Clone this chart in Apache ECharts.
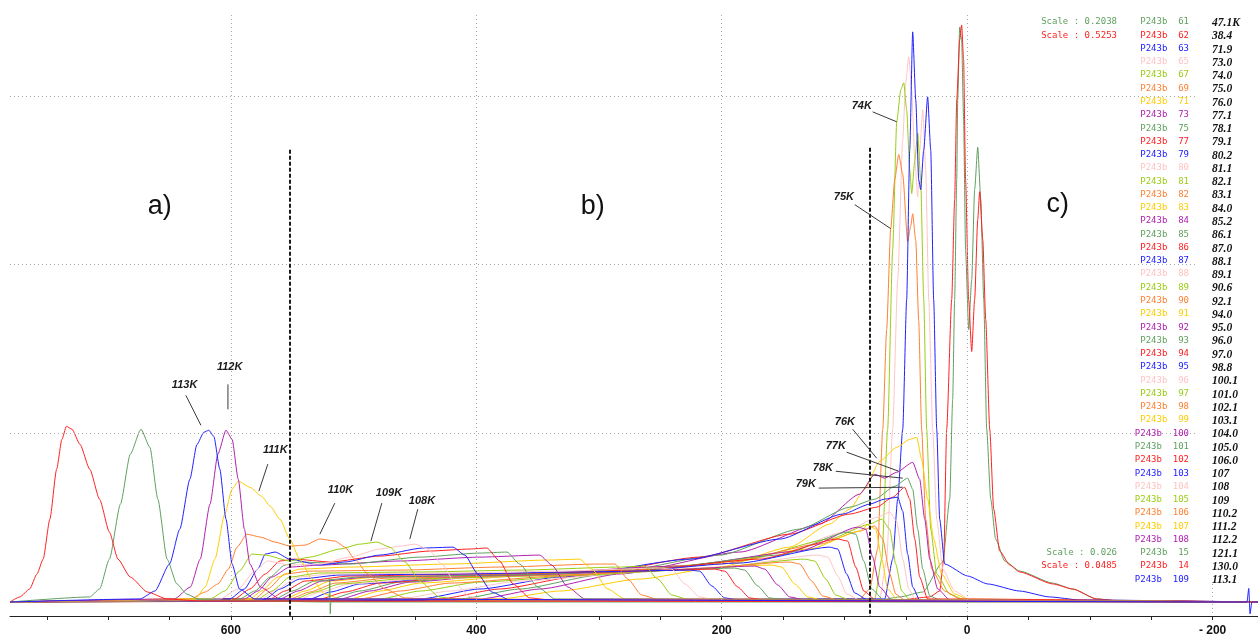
<!DOCTYPE html>
<html>
<head>
<meta charset="utf-8">
<script src="https://cdn.jsdelivr.net/npm/echarts@6/dist/echarts.min.js"></script>
<style>
  html, body { margin: 0; padding: 0; background: #ffffff; }
  #chart { width: 1258px; height: 637px; }
</style>
</head>
<body>
<div id="chart"></div>
<script>
// Axis extents (wavenumber shift on x, relative intensity on y)
const X_MIN = -237, X_MAX = 780;
const Y_MIN = -8.3, Y_MAX = 347.9;
const xTickValues = [750, 700, 650, 600, 550, 500, 450, 400, 350, 300, 250, 200, 150, 100, 50, 0, -50, -100, -150, -200];
const xLabelValues = [600, 400, 200, 0, -200];

// Run ids and temperatures, in legend order
const runIds = ['61','62','63','65','67','69','71','73','75','77','79','80','81','82','83','84','85','86','87','88','89','90','91','92','93','94','95','96','97','98','99','100','101','102','103','104','105','106','107','108','15','14','109'];
const runTemps = ['47.1K','38.4','71.9','73.0','74.0','75.0','76.0','77.1','78.1','79.1','80.2','81.1','82.1','83.1','84.0','85.2','86.1','87.0','88.1','89.1','90.6','92.1','94.0','95.0','96.0','97.0','98.8','100.1','101.0','102.1','103.1','104.0','105.0','106.0','107','108','109','110.2','111.2','112.2','121.1','130.0','113.1'];
const palette = ['#5f9f5f', '#ff2020', '#2020ff', '#ffc4c4', '#99cc11', '#ff7f30', '#ffcc00', '#b020b0'];
const scaleNotes = [['Scale : 0.2038', 0, 0], ['Scale : 0.5253', 1, 1], ['Scale : 0.026', 40, 0], ['Scale : 0.0485', 41, 1]];

// Spectra: [shift, intensity]
const t61 = [[71.3,1.2],[55,3],[36.2,5.9],[19.9,23.7],[14.2,61],[11.8,120.1],[10.2,179.3],[8.5,250.4],[7.7,297.6],[6.1,340.8],[4.5,333.1],[2.9,285.8],[1.3,208.9],[-1.2,161.5],[-3.7,191.1],[-6.1,244.4],[-8.6,269.6],[-11.1,238.5],[-13.5,179.3],[-15.9,102.4],[-19.2,61],[-23.2,37.3],[-30.6,24.3],[-42.8,18.3],[-69.7,11.2],[-86,7.7],[-105.5,1.8],[-124.3,0.6]];
const t62 = [[55,1.2],[30.5,3],[22.4,6.5],[19.1,25.4],[16.7,102.4],[12.6,179.3],[10.2,238.5],[8.5,297.6],[6.1,333.1],[4.5,342],[2.9,321.3],[1.3,250.4],[-1.2,179.3],[-3.7,148.5],[-6.1,179.3],[-8.6,226.6],[-10.2,243.2],[-12.7,214.8],[-15.1,167.5],[-18.4,102.4],[-21.6,55],[-26.5,30.2],[-34.7,21.9],[-42.8,17.8],[-69.7,10.7],[-86,7.7],[-105.5,1.8],[-124.3,0.6]];
const t63 = [[67.2,1.8],[60.7,25.4],[56.6,61],[52.5,102.4],[49.3,179.3],[46.8,268],[44.4,337.9],[41.9,297.6],[39.5,250.4],[37.9,244.4],[35.4,268],[32.2,299.4],[29.7,268],[27.3,179.3],[24.8,102.4],[22.4,49.1],[18.3,22.5],[-0.4,15.4],[-16.7,10.7],[-42.8,6.5],[-67.2,3],[-91.7,1.2]];
const t65 = [[71.3,1.8],[65.6,25.4],[60.7,102.4],[56.6,191.1],[52.5,273.9],[50.1,307.7],[47.6,323.1],[45.2,303.6],[42.7,262.1],[40.3,240.2],[38.7,268],[36.2,291.7],[33.8,256.2],[31.3,179.3],[28.1,102.4],[24.8,49.1],[19.9,19.5],[10.2,6.5],[-2.1,1.2]];
const t67 = [[75.3,1.8],[69.6,25.4],[64.8,102.4],[60.7,208.9],[57.4,284.6],[54.1,303.6],[51.7,307.7],[49.3,291.7],[46.8,256.2],[45.2,242],[42.7,261.5],[40.3,278],[37.9,250.4],[35.4,179.3],[33,102.4],[29.7,43.2],[24.8,16.6],[14.2,4.7],[2,1.2]];
const t69 = [[87.6,1.8],[79.4,7.7],[72.9,31.4],[68.8,102.4],[65.6,161.5],[62.3,221.4],[59,250.4],[55.8,265.2],[52.5,253.4],[48.5,213.6],[46,223],[44.4,230.1],[41.9,214.2],[39.5,166.9],[37.1,102.4],[33.8,49.1],[28.9,19.5],[18.3,6.5],[6.1,1.8]];
const t71 = [[381,1.8],[332,6.5],[266.8,13.6],[201.6,20.7],[144.6,32.5],[112,46.2],[95.7,55],[83.5,66.9],[71.3,83.4],[57.4,91.7],[46.8,96.4],[41.1,97.6],[37.1,84.6],[32.2,60.9],[27.3,37.3],[20.8,16.6],[10.2,4.7],[-2.1,1.2]];
const t73 = [[397,1.8],[348.3,7.7],[283,16.6],[185.3,29.6],[120.1,46.2],[87.6,63.9],[75.3,75.7],[67.2,73.4],[57.4,76.9],[44.4,82.8],[38.7,72.8],[34.6,49.1],[30.5,25.4],[24,7.7],[14.2,1.2]];
const t75 = [[413.4,1.8],[364.6,7.7],[299.4,16],[201.6,27.8],[136.4,43.2],[95.7,56.2],[75.3,60.9],[59,68.6],[48.5,73.4],[44.4,66.9],[40.3,43.2],[36.2,19.5],[30.5,3.6],[22.4,1.2]];
const t77 = [[430,1.8],[381,7.7],[315.7,15.4],[218,26.6],[144.6,40.2],[95.7,52.1],[73.7,56.2],[60.7,62.1],[50.9,68],[46.8,60.9],[42.7,37.3],[38.7,14.8],[32.2,1.8]];
const t79 = [[446,1.8],[397,7.7],[332,14.8],[226,25.4],[152.7,37.3],[101.4,52.1],[79.4,58],[67.2,61],[56.6,62.1],[52.5,53.8],[48.5,28.4],[44.4,8.9],[38.7,1.2]];
const t80 = [[462,1.8],[421.6,6.5],[364.6,12.4],[266.8,17.8],[161,26.6],[99.8,41.4],[72.9,50.3],[63.1,53.3],[57.4,47.9],[52.5,25.4],[47.6,7.7],[41.9,1.2]];
const t81 = [[478.6,1.8],[446,6.5],[397,11.8],[299.4,16.6],[185.3,24.3],[112,37.3],[79.4,46.2],[69.6,49.1],[63.1,43.2],[58.2,22.5],[53.3,6.5],[46.8,1.2]];
const t82 = [[495,1.8],[462,6.5],[421.6,11.2],[332,15.4],[201.6,22.5],[120.1,34.3],[87.6,42],[75.3,45],[68.8,37.3],[63.1,16.6],[58.2,4.7],[50.9,1.2]];
const t83 = [[503,1.8],[478.6,6.5],[446,11.2],[364.6,15.4],[218,21.9],[128.3,31.4],[87.6,42],[81,45.6],[74.5,43.2],[69.6,25.4],[64.8,7.7],[56.6,1.2]];
const t84 = [[511,1.8],[486.8,6.5],[454,11.8],[381,16],[234.2,21.3],[136.4,30.2],[89.2,44.4],[82.7,43.2],[77,26.6],[71.3,8.9],[61.5,1.2]];
const t85 = [[519,1.8],[495,6.5],[462,11.8],[397,15.4],[250.5,20.1],[152.7,27.8],[97.4,41.4],[90.8,40.2],[84.3,24.3],[77.8,7.7],[68,1.2]];
const t86 = [[527.5,1.8],[507,5.9],[478.6,11.2],[413.4,14.8],[266.8,18.9],[169,25.4],[105.5,37.3],[97.4,36.1],[90.8,20.7],[84.3,6.5],[74.5,1.2]];
const t87 = [[535.6,1.8],[519,5.9],[495,10.7],[430,14.2],[283,17.8],[185.3,23.1],[112,32.5],[105.5,31.4],[98.2,16.6],[91.6,5.3],[81,1.2]];
const t88 = [[544,1.8],[527.5,5.9],[503,10.7],[446,13.6],[299.4,16.6],[201.6,20.7],[121.8,27.8],[113.6,26.6],[105.5,15.4],[98.2,4.7],[87.6,1.2]];
const t89 = [[548,1.8],[531.6,5.9],[511,10.7],[462,13.6],[315.7,16],[218,19.5],[132.4,25.4],[124.2,24.3],[115.2,13.6],[107.1,4.1],[95.7,1.2]];
const t90 = [[552,1.8],[535.6,5.9],[515,11.2],[470.5,14.2],[332,16],[234.2,18.9],[144.6,23.7],[136.4,22.5],[126.7,12.4],[117.7,3.6],[105.5,1.2]];
const t91 = [[556,1.8],[539.7,6.5],[519,12.4],[478.6,14.8],[348.3,16.6],[250.5,18.9],[159.3,21.9],[151.1,20.7],[140.5,10.7],[129.9,3],[118.5,1.2]];
const t92 = [[560,1.8],[545.4,6.5],[525.9,12.4],[486.8,14.8],[364.6,16],[266.8,18.3],[173.1,21.3],[165,19.5],[154.4,10.1],[144.6,3],[132.4,1.2]];
const t93 = [[564,1.8],[550,6.5],[531.6,12.4],[495,14.8],[381,16],[283,17.8],[189.4,20.1],[181.3,18.9],[170.7,9.5],[161,2.4],[148.7,1.2]];
const t94 = [[568,1.8],[556,6.5],[539.7,12.4],[503,15.4],[397,16.6],[299.4,17.8],[205.7,19.5],[197.5,18.3],[187,8.9],[177.2,2.4],[165,1.2]];
const t95 = [[572,1.8],[560,7.7],[544,13.6],[511,16],[413.4,16.6],[315.7,17.8],[226,18.9],[218,18.3],[208.1,9.5],[197.5,2.4],[185.3,1.2]];
const t96 = [[575,1.8],[562,7.7],[545.4,14.8],[519,16.6],[421.6,17.2],[332,18.3],[250.5,20.1],[240.7,19.5],[230,10.7],[218,3],[205.7,1.2]];
const t97 = [[578,1.8],[566.6,6.5],[552,14.8],[527.5,17.2],[446,17.8],[364.6,18.9],[283,20.7],[262.7,21.3],[252.1,13.6],[240.7,4.1],[226,1.2]];
const t98 = [[580.5,1.8],[570,7.7],[556,16.6],[535.6,18.3],[462,18.9],[381,20.7],[299.4,22.5],[287,22.5],[276.6,13.6],[265.2,4.1],[250.5,1.2]];
const t99 = [[584.5,1.8],[575,6.5],[562,14.8],[544,19.5],[503,20.7],[421.6,22.5],[340,24.9],[315.7,25.4],[305.9,19.5],[292.9,7.7],[279,1.8]];
const t100 = [[589,1.8],[578,6.5],[566.6,14.8],[552,20.7],[527.5,21.9],[462,24.3],[397,26.6],[348.3,27.8],[338.5,21.9],[325.5,8.9],[311.6,1.8]];
const t101 = [[593,1.8],[580.5,6.5],[568,14.8],[556,21.9],[544,23.7],[503,22.5],[446,26.6],[397,29],[375,29.6],[364.6,22.5],[349.9,8.9],[336,1.8]];
const t102 = [[597,1.8],[584.5,7.7],[572,16.6],[560,24.3],[548,25.4],[519,23.7],[478.6,27.2],[438,30.2],[405,31.4],[391.4,32],[381,24.3],[370,10.7],[356.4,2.4],[340,1.2]];
const t103 = [[601,1.8],[589,7.7],[578,19.5],[572,28.4],[564,29.6],[552,25.4],[527.5,21.9],[507,23.7],[478.6,27.8],[443.6,32],[419,32.5],[409.4,27.8],[398.8,16.6],[387.4,5.9],[372.7,1.2]];
const t104 = [[609,1.8],[594,7.7],[580.5,18.3],[570,24.3],[552,21.9],[527.5,22.5],[503,26.6],[478.6,31.4],[462,33.1],[450,34.3],[439.5,31.4],[428,22.5],[416.7,10.7],[405,3],[389,1.2]];
const t105 = [[617,1.8],[605,6.5],[593,18.3],[583,28.4],[572,27.8],[552,24.3],[535.6,26.6],[511,31.4],[495,34.3],[481,35.5],[470.5,32.5],[458,23.7],[446,12.4],[430,3],[413.4,1.2]];
const t106 = [[633,1.8],[621,5.9],[610.6,10.7],[602,19.5],[595,32.5],[587,40.2],[576,38.5],[564,35.5],[552,33.1],[539.7,33.7],[527.5,37.3],[515,36.1],[507,32.5],[499,25.4],[488.4,16.6],[474.5,7.7],[458,2.4],[438,1.2]];
const t107 = [[629,1.8],[621,8.9],[613,25.4],[605,52.1],[599,66.9],[594,71.6],[584.5,68],[575,62.7],[568,56.8],[560,49.1],[552,37.3],[544,25.4],[534,13.6],[523.5,4.7],[511,1.8]];
const t108 = [[646,1.8],[633,8.9],[625,25.4],[617,58],[610.6,87.6],[604,101.8],[599,96.4],[594,72.8],[589,43.2],[584.5,22.5],[576,8.9],[560,1.8]];
const t15 = [[715,3],[707,7.7],[699,25.4],[690,58],[682,87.6],[673.3,102.4],[666,91.7],[659.5,60.9],[652,25.4],[644,10.7],[636,4.7],[625,1.2],[520,0],[519.4,13.6],[519,-7],[518.6,0]];
const t14 = [[772,3],[764,7.7],[758,16.6],[753,25.4],[747.5,49.1],[742,78.7],[737.7,96.4],[734,104.1],[729.5,102.4],[723,93.5],[715,78.7],[707,60.9],[699,41.4],[692,25.4],[682,14.8],[668,5.9],[652,1.8],[625,0.6]];
const t109 = [[674,1.8],[661.9,6.5],[650,22.5],[641.6,43.2],[633.4,72.8],[627.7,93.3],[622,100.6],[618,101.8],[613.9,98.2],[609,78.7],[604,49.1],[599,22.5],[593,7.7],[580.5,1.8],[-228,0],[-229.5,8],[-230.5,-7],[-232,0]];

const traces = [t61,t62,t63,t65,t67,t69,t71,t73,t75,t77,t79,t80,t81,t82,t83,t84,t85,t86,t87,t88,t89,t90,t91,t92,t93,t94,t95,t96,t97,t98,t99,t100,t101,t102,t103,t104,t105,t106,t107,t108,t15,t14,t109];
// Stacking order of the traces (later ones are drawn on top)
const drawOrder = [0, 1, 3, 4, 5, 2, 6, 7, 8, 9, 10, 11, 12, 13, 14, 15, 16, 17, 18, 19, 20, 21, 22, 23, 24, 25, 26, 27, 28, 29, 30, 31, 32, 33, 34, 35, 36, 37, 38, 39, 40, 41, 42];

// Peak annotations: text anchor, leader start, leader end (data coordinates)
const tempLabels = ['113K','112K','111K','110K','109K','108K','74K','75K','76K','77K','78K','79K'];
const tempLabelAt = [[648.1,128.4],[611.4,139.1],[573.9,89.9],[521,66.3],[481.9,64.5],[455,59.8],[94.1,294.1],[108.7,240.2],[107.9,106.5],[115.3,92.3],[125.8,79.3],[139.7,69.8]];
const leaderFrom = [[636.7,122.5],[602.4,129],[569.9,81.7],[515.3,58.6],[477,58.6],[447.7,55],[77,290.5],[91.6,235.5],[93.3,102.4],[98.2,88.8],[107.1,77.5],[121,67.5]];
const leaderTo = [[624.4,104.7],[602.4,114.2],[577.2,65.7],[527.5,40.2],[485.9,36.1],[454.2,37.3],[57.4,284.6],[62.3,221.3],[73.7,85.2],[55.8,77.5],[52.5,73.4],[52.5,68]];
const regionNames = ['a)', 'b)', 'c)'];
const regionAt = [[657.9,234.3],[305.1,234.3],[-73.8,235.5]];
// Region boundaries
const regionBounds = [552, 79.4];
const regionBoundTop = [268, 269.2];

const chart = echarts.init(document.getElementById('chart'), null, { renderer: 'canvas' });

const dotted = { color: '#a8a8a8', type: [1, 3], width: 1 };
const gridLines = [];
[600, 400, 200, 0].forEach(v => gridLines.push([{ coord: [v, Y_MAX] }, { coord: [v, Y_MIN] }]));
gridLines.push([{ coord: [-200, 10.7] }, { coord: [-200, Y_MIN] }]);
[100, 200, 300].forEach(v => gridLines.push([{ coord: [X_MAX, v] }, { coord: [-187, v] }]));

const boundLines = regionBounds.map((x, i) => [{ coord: [x, regionBoundTop[i]] }, { coord: [x, Y_MIN] }]);

const series = [{
  type: 'line', data: [[X_MAX, 0]], showSymbol: false, silent: true, z: 1,
  lineStyle: { width: 0 },
  markLine: { silent: true, symbol: ['none', 'none'], animation: false, label: { show: false },
    lineStyle: dotted, data: gridLines }
}];

drawOrder.forEach(i => {
  series.push({
    name: runIds[i],
    type: 'line',
    // flat baseline on either side of each trace
    data: [[X_MAX, 0]].concat(traces[i], [[X_MIN, 0]]),
    showSymbol: false,
    smooth: 0.2,
    smoothMonotone: 'x',
    silent: true,
    z: 2,
    lineStyle: { width: 1, color: palette[i % 8] },
    itemStyle: { color: palette[i % 8] }
  });
});

series.push({
  type: 'line', data: [[X_MAX, 0]], showSymbol: false, silent: true, z: 5,
  lineStyle: { width: 0 },
  markLine: { silent: true, symbol: ['none', 'none'], animation: false, label: { show: false },
    lineStyle: { color: '#1a1a1a', type: [4, 2], width: 2 }, data: boundLines }
});

chart.setOption({
  animation: false,
  backgroundColor: '#ffffff',
  grid: { left: 10, right: 0, top: 15, bottom: 20 },
  xAxis: {
    type: 'value', inverse: true, min: X_MIN, max: X_MAX,
    axisLine: { show: true, onZero: false, lineStyle: { color: '#222', width: 1 } },
    axisTick: { show: true, customValues: xTickValues, length: 4, lineStyle: { color: '#222' } },
    axisLabel: {
      customValues: xLabelValues, margin: 9, color: '#111',
      fontFamily: 'Liberation Sans', fontWeight: 'bold', fontSize: 12,
      formatter: v => (v < 0 ? '- ' + Math.abs(v) : String(v))
    },
    splitLine: { show: false }
  },
  yAxis: { type: 'value', min: Y_MIN, max: Y_MAX, show: false },
  series: series
});

// Annotations and the run list
const toPx = p => chart.convertToPixel({ gridIndex: 0 }, p);
const graphics = [];

regionNames.forEach((t, i) => {
  const p = toPx(regionAt[i]);
  graphics.push({ type: 'text', silent: true, z: 20, style: {
    text: t, x: p[0], y: p[1], fill: '#111',
    font: '27px "Liberation Sans", Arial, sans-serif',
    align: 'center', verticalAlign: 'middle', textAlign: 'center', textVerticalAlign: 'middle' } });
});

tempLabels.forEach((t, i) => {
  const p = toPx(tempLabelAt[i]);
  const a = toPx(leaderFrom[i]);
  const b = toPx(leaderTo[i]);
  graphics.push({ type: 'line', silent: true, z: 20,
    shape: { x1: a[0], y1: a[1], x2: b[0], y2: b[1] },
    style: { stroke: '#3a3a3a', lineWidth: 1 } });
  graphics.push({ type: 'text', silent: true, z: 20, style: {
    text: t, x: p[0], y: p[1], fill: '#1a1a1a',
    font: 'italic bold 11px "Liberation Sans", Arial, sans-serif',
    align: 'left', verticalAlign: 'middle', textAlign: 'left', textVerticalAlign: 'middle' } });
});

const rowTop = 22, rowStep = 13.27;
runIds.forEach((id, i) => {
  const y = rowTop + i * rowStep;
  graphics.push({ type: 'text', silent: true, z: 20, style: {
    text: 'P243b  ' + id, x: 1189, y: y, fill: palette[i % 8],
    font: '9px "DejaVu Sans Mono", monospace',
    align: 'right', verticalAlign: 'middle', textAlign: 'right', textVerticalAlign: 'middle' } });
  graphics.push({ type: 'text', silent: true, z: 20, style: {
    text: runTemps[i], x: 1212, y: y + 1, fill: '#111',
    font: 'italic bold 11.5px "Liberation Serif", "Times New Roman", serif',
    align: 'left', verticalAlign: 'middle', textAlign: 'left', textVerticalAlign: 'middle' } });
});

scaleNotes.forEach(([t, row, c]) => {
  graphics.push({ type: 'text', silent: true, z: 20, style: {
    text: t, x: 1117, y: rowTop + row * rowStep, fill: palette[c],
    font: '9px "DejaVu Sans Mono", monospace',
    align: 'right', verticalAlign: 'middle', textAlign: 'right', textVerticalAlign: 'middle' } });
});

chart.setOption({ graphic: { elements: graphics } });
</script>
</body>
</html>
